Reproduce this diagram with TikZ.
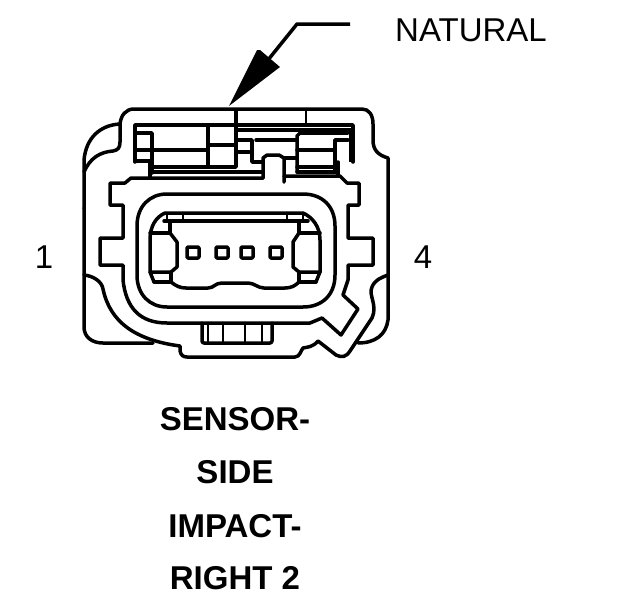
\documentclass[tikz,border=0pt]{standalone}
\usepackage{fontspec}
\setmainfont{Liberation Sans}
\tikzset{
  part/.style={line width=3.5pt,line join=round,line cap=round},
  thin part/.style={line width=2.8pt,line join=round,line cap=round},
  label/.style={font=\fontsize{33}{35}\selectfont,inner sep=0pt},
  title/.style={font=\fontsize{33}{35}\selectfont\bfseries,inner sep=0pt},
}
\begin{document}
\begin{tikzpicture}[x=1pt,y=-1pt]
\useasboundingbox (0,0) rectangle (624,600);

% Outer body of the connector
\draw[part] (84,208) -- (84,327) .. controls (84,337) and (92,343) .. (103,343) -- (153,343);
\draw[part] (84,208) -- (84,160) .. controls (86,138) and (100,125) .. (120,124);
\draw[part] (84,172) .. controls (90,158) and (100,152) .. (113,151) .. controls (118,150) and (120,148) .. (120,142)
  -- (120,124) .. controls (121,115) and (126,109) .. (134,109) -- (362,109)
  .. controls (369,109) and (373,115) .. (373,124) -- (373,140) .. controls (373,150) and (378,155) .. (388,158)
  -- (388,320) .. controls (386,335) and (375,343) .. (358,343);
\draw[part] (84,275) .. controls (94,276) and (102,282) .. (103,289)
  .. controls (110,322) and (135,340) .. (180,346) -- (180,351) .. controls (181,355) and (183,357) .. (187,357)
  -- (295,357) .. controls (300,357) and (301,350) .. (303,348) .. controls (308,347) and (313,347) .. (318,341)
  -- (336,355) .. controls (342,358) and (346,357) .. (350,351) -- (372,318)
  .. controls (378,305) and (368,295) .. (372,287) .. controls (375,280) and (380,278) .. (388,275);

% Collar with its side lugs
\draw[part] (263,178) -- (150,178) -- (131,178) -- (125,183) -- (110,183) -- (110,205) -- (123,205) -- (123,238)
  -- (100,238) -- (100,265) -- (123,265) -- (123,280) .. controls (126,308) and (140,323) .. (167,323)
  -- (310,323) -- (322,318) -- (341,335) -- (358,309) -- (343,295) -- (348,280) -- (348,265) -- (373,265)
  -- (373,238) -- (348,238) -- (348,205) -- (359,205) -- (359,183) -- (347,183) -- (340,176) -- (284,176);
% Notch in the collar
\draw[part] (284,182) -- (284,158) -- (279,155) -- (267,155) -- (263,158) -- (263,178);

% Oval opening
\draw[part] (137,226) .. controls (137,206) and (150,194) .. (167,194) -- (303,194)
  .. controls (322,194) and (335,206) .. (335,226) -- (335,275) .. controls (335,295) and (322,307) .. (303,307)
  -- (167,307) .. controls (150,307) and (137,295) .. (137,275) -- cycle;

% Insert inside the oval
\draw[part] (165,213) -- (303,213) .. controls (312,217) and (320,226) .. (320,240) -- (320,272) -- (316,282);
\draw[part] (165,213) .. controls (156,217) and (150,226) .. (150,240) -- (150,272) -- (154,282);
\draw[part] (164,221) -- (308,221);
\foreach \x in {167,183,287,303}
  \draw[thin part] (\x,213) -- (\x,221);
\draw[part] (170,221) -- (170,233) -- (150,233);
\draw[part] (170,233) -- (177,242) -- (177,267) -- (171,272) -- (150,272);
\draw[part] (154,282) -- (171,282) -- (171,272);
\draw[part] (299,221) -- (299,233) -- (320,233);
\draw[part] (299,233) -- (293,242) -- (293,267) -- (299,272) -- (320,272);
\draw[part] (316,282) -- (299,282) -- (299,272);
\draw[part] (171,282) .. controls (176,286) and (180,288) .. (186,288) -- (208,288)
  .. controls (214,288) and (215,283) .. (222,283) -- (248,283) .. controls (254,283) and (258,288) .. (264,288)
  -- (285,288) .. controls (291,288) and (295,286) .. (299,282);

% Pins
\foreach \x in {187,216,241,270}
  \draw[part,rounded corners=1pt] (\x,247) rectangle ++(12,11);

% Bottom tab
\draw[part,rounded corners=2pt] (202,323) -- (202,343) -- (272,343) -- (272,323);
\foreach \x in {208,223,245,262}
  \draw[thin part] (\x,323) -- (\x,343);

% Latch details along the top
\draw[part] (135,162) -- (135,125) -- (207,125) -- (353,125) -- (353,162);
\draw[line width=4.5pt] (236,109) -- (236,125);
\draw[thin part] (306,109) -- (306,125);
\draw[part] (135,133) -- (152,133) -- (152,173);
\draw[part] (135,150) -- (208,150);
\draw[part] (135,161) -- (150,161) -- (150,177);
\draw[part] (208,125) -- (208,167) -- (236,167) -- (236,125);
\draw[part] (208,145) -- (236,145);
\draw[part] (152,167) -- (208,167);
\draw[part] (152,172) -- (263,172);
\draw[part] (236,130) -- (351,130);
\draw[part] (236,140) -- (252,140) -- (252,162) -- (263,162);
\draw[part] (236,152) -- (252,152);
\draw[part] (256,140) -- (297,140);
\draw[part] (297,172) -- (297,136) -- (300,133) -- (348,133);
\draw[part] (297,150) -- (335,150);
\draw[part] (335,172) -- (335,140) -- (348,140);
\draw[part] (284,158) -- (297,158);
\draw[part] (297,167) -- (335,167);
\draw[part] (297,172) -- (338,172);
\draw[part] (338,162) -- (338,176);
\draw[line width=4pt] (351,128) -- (351,162);

% Leader with its filled head
\coordinate (leader) at (350,24);
\coordinate (tip) at (229,106);
\fill (tip) -- (257,50) -- (260,50) -- (280,67) -- cycle;
\draw[part,line cap=butt] (leader) -- (297,24) -- (268,60);

\node[label,anchor=west] (natural) at (395,30) {NATURAL};
\node[label] (pinone) at (44,257) {1};
\node[label] (pinfour) at (423,257) {4};

\node[title] (sensor) at (235,419) {SENSOR-};
\node[title] (side) at (235,472) {SIDE};
\node[title] (impact) at (235,526) {IMPACT-};
\node[title] (right) at (235,578) {RIGHT 2};

\end{tikzpicture}
\end{document}
